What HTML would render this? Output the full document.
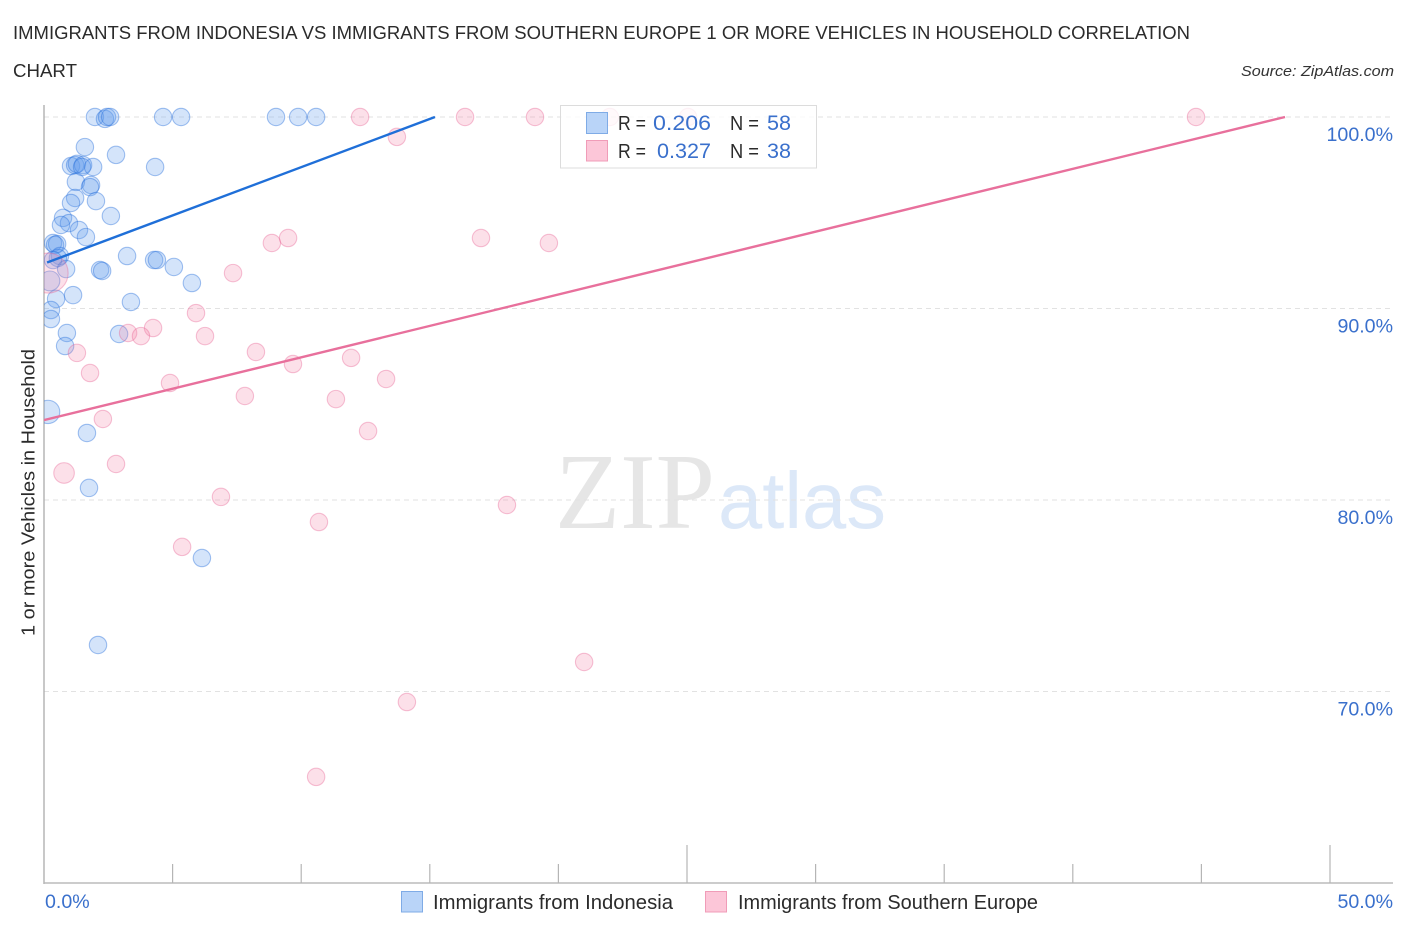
<!DOCTYPE html>
<html lang="en">
<head>
<meta charset="utf-8">
<title>Immigrants from Indonesia vs Immigrants from Southern Europe Correlation Chart</title>
<style>
html,body{margin:0;padding:0;background:#fff;}
svg{display:block;font-family:"Liberation Sans",sans-serif;}
</style>
</head>
<body>
<svg id="chart" xmlns="http://www.w3.org/2000/svg" width="1406" height="930" viewBox="0 0 1406 930">
  <defs>
    <clipPath id="plot-clip"><rect x="44" y="90" width="1349" height="793"/></clipPath>
  </defs>
  <rect x="0" y="0" width="1406" height="930" fill="#ffffff"/>
  <text x="13" y="39" font-size="18.6" fill="#2b2b2b" textLength="1177" lengthAdjust="spacingAndGlyphs">IMMIGRANTS FROM INDONESIA VS IMMIGRANTS FROM SOUTHERN EUROPE 1 OR MORE VEHICLES IN HOUSEHOLD CORRELATION</text>
  <text x="13" y="77" font-size="18.6" fill="#2b2b2b" textLength="64" lengthAdjust="spacingAndGlyphs">CHART</text>
  <text x="1241" y="76" font-size="15" font-style="italic" fill="#333333" textLength="153" lengthAdjust="spacingAndGlyphs">Source: ZipAtlas.com</text>

  <g id="watermark">
    <text x="555" y="528" font-family="'Liberation Serif',serif" font-size="108" fill="#e6e6e6" textLength="160" lengthAdjust="spacingAndGlyphs">ZIP</text>
    <text x="718" y="528" font-family="'Liberation Sans',sans-serif" font-size="80" fill="#dce8f8" textLength="168" lengthAdjust="spacingAndGlyphs">atlas</text>
  </g>

  <g id="grid"></g>
  <g id="axes"></g>
  <g clip-path="url(#plot-clip)">
    <g id="series-a"></g>
    <g id="series-b"></g>
    <g id="trends"></g>
  </g>
  <g id="labels"></g>

  <text transform="translate(34.500,636) rotate(-90)" font-size="18" fill="#2b2b2b" textLength="287" lengthAdjust="spacingAndGlyphs">1 or more Vehicles in Household</text>

  <g>
    <rect x="560.500" y="105.500" width="256" height="62.500" fill="#ffffff" fill-opacity="0.8" stroke="#dcdcdc" stroke-width="1"/>
    <rect x="586.500" y="112.500" width="21" height="21" fill="#b9d4f8" stroke="#7fabe6" stroke-width="1"/>
    <rect x="586.500" y="140.500" width="21" height="20.500" fill="#fcc6d8" stroke="#f09cb8" stroke-width="1"/>
    <text x="618" y="130" font-size="20" fill="#2b2b2b" textLength="28" lengthAdjust="spacingAndGlyphs">R =</text>
    <text x="653" y="130" font-size="21" fill="#3a70cc" textLength="58" lengthAdjust="spacingAndGlyphs">0.206</text>
    <text x="730" y="130" font-size="20" fill="#2b2b2b" textLength="29" lengthAdjust="spacingAndGlyphs">N =</text>
    <text x="767" y="130" font-size="21" fill="#3a70cc" textLength="24" lengthAdjust="spacingAndGlyphs">58</text>
    <text x="618" y="158" font-size="20" fill="#2b2b2b" textLength="28" lengthAdjust="spacingAndGlyphs">R =</text>
    <text x="657" y="158" font-size="21" fill="#3a70cc" textLength="54" lengthAdjust="spacingAndGlyphs">0.327</text>
    <text x="730" y="158" font-size="20" fill="#2b2b2b" textLength="29" lengthAdjust="spacingAndGlyphs">N =</text>
    <text x="767" y="158" font-size="21" fill="#3a70cc" textLength="24" lengthAdjust="spacingAndGlyphs">38</text>
  </g>

  <g>
    <rect x="401.500" y="891.500" width="21" height="20.500" fill="#b9d4f8" stroke="#7fabe6" stroke-width="1"/>
    <text x="433" y="909" font-size="20" fill="#2b2b2b" textLength="240" lengthAdjust="spacingAndGlyphs">Immigrants from Indonesia</text>
    <rect x="705.500" y="891.500" width="21" height="20.500" fill="#fcc6d8" stroke="#f09cb8" stroke-width="1"/>
    <text x="738" y="909" font-size="20" fill="#2b2b2b" textLength="300" lengthAdjust="spacingAndGlyphs">Immigrants from Southern Europe</text>
  </g>
</svg>
<script>
const indonesiaX = [1.98,2.37,2.45,2.57,4.63,5.33,9.02,9.88,10.58,1.59,2.80,4.32,1.05,1.21,1.28,1.52,1.48,1.91,1.24,1.83,1.79,1.21,1.05,2.02,2.60,0.74,0.97,0.66,1.36,1.63,0.35,0.51,0.43,0.62,0.54,0.35,3.23,4.28,4.39,5.05,0.86,2.18,2.26,5.75,0.23,1.13,0.47,3.38,0.27,0.27,0.89,0.82,2.92,0.16,1.67,1.75,6.14,2.10];
const indonesiaY = [100,99.9,100,100,100,100,100,100,100,98.43,98.02,97.39,97.44,97.49,97.55,97.49,97.39,97.39,96.61,96.45,96.34,95.77,95.51,95.61,94.83,94.73,94.46,94.36,94.10,93.73,93.42,93.37,93.32,92.74,92.64,92.53,92.74,92.53,92.53,92.17,92.06,92.01,91.96,91.33,91.44,90.70,90.50,90.34,89.92,89.45,88.72,88.04,88.67,84.6,83.50,80.63,76.97,72.43];
const indonesiaWeight = [1,1,1,1,1,1,1,1,1,1,1,1,1,1,1,1,1,1,1,1,1,1,1,1,1,1,1,1,1,1,1,1,1,1,1,1,1,1,1,1,1,1,1,1,1.3,1,1,1,1,1,1,1,1,1.8,1,1,1,1];
const europeX = [12.29,16.37,19.09,22.0,25.04,44.79,13.72,8.86,9.49,16.99,19.63,7.35,5.91,6.26,4.24,3.27,3.77,1.28,1.79,8.24,9.68,11.94,4.90,13.30,7.81,11.35,2.29,12.60,2.80,0.78,6.88,18.0,10.69,5.37,21.0,14.11,10.58,0.16];
const europeY = [100,100,100,100,100,100,98.96,93.42,93.68,93.68,93.42,91.85,89.76,88.56,88.98,88.72,88.56,87.68,86.63,87.73,87.10,87.42,86.11,86.32,85.43,85.27,84.23,83.60,81.88,81.41,80.16,79.74,78.85,77.55,71.54,69.45,65.54,91.85];
const europeWeight = [1,1,1,1,1,1,1,1,1,1,1,1,1,1,1,1,1,1,1,1,1,1,1,1,1,1,1,1,1,1.4,1,1,1,1,1,1,1,5.3];
const indonesiaTrendX = [0.12,15.2];
const indonesiaTrendY = [92.4,100];
const europeTrendX = [0,48.25];
const europeTrendY = [84.17,100];
const xTickValues = [0,5,10,15,20,25,30,35,40,45,50];
const xMajorTicks = [0,25,50];
const xTickLabels = ["0.0%","50.0%"];
const xLabelValues = [0,50];
const yGridValues = [100,90,80,70];
const yTickLabels = ["100.0%","90.0%","80.0%","70.0%"];

const NS = 'http://www.w3.org/2000/svg';
function sx(v){ return 44 + v * 25.72; }
function sy(v){ return 117 + (100 - v) * 19.15; }
function radius(w){ return 8.7 * Math.sqrt(w); }
function make(tag, attrs, parent){
  const el = document.createElementNS(NS, tag);
  for (const k in attrs) el.setAttribute(k, attrs[k]);
  parent.appendChild(el);
  return el;
}

const grid = document.getElementById('grid');
yGridValues.forEach(function(v){
  const line = make('line', {x1:44, x2:1393, y1:sy(v), y2:sy(v), stroke:'#e2e2e2', 'stroke-width':1, 'stroke-dasharray':'5 4'}, grid);
  
  
});

const axes = document.getElementById('axes');
const yAxis = make('line', {x1:44, x2:44, y1:105, y2:884, stroke:'#aaaaaa', 'stroke-width':1.3}, axes);


const xAxis = make('line', {x1:44, x2:1393, y1:883, y2:883, stroke:'#bbbbbb', 'stroke-width':1.6}, axes);


xTickValues.forEach(function(v){
  const top = xMajorTicks.indexOf(v) >= 0 ? 845 : 864;
  const tick = make('line', {x1:sx(v), x2:sx(v), y1:top, y2:883, stroke:'#b5b5b5', 'stroke-width':1.2}, axes);
  
  
});

function drawPoints(groupId, xs, ys, ws, fill, stroke, name){
  const g = document.getElementById(groupId);
  xs.forEach(function(x, i){
    const c = make('circle', {cx:sx(x), cy:sy(ys[i]), r:radius(ws[i]), fill:fill, stroke:stroke, 'stroke-width':1.1}, g);
    
    
  });
}
drawPoints('series-b', europeX, europeY, europeWeight, 'rgba(242,130,168,0.25)', 'rgba(232,96,146,0.38)', 'southern-europe-point');
drawPoints('series-a', indonesiaX, indonesiaY, indonesiaWeight, 'rgba(96,156,236,0.27)', 'rgba(40,112,220,0.42)', 'indonesia-point');

const trends = document.getElementById('trends');
const trendA = make('line', {x1:sx(indonesiaTrendX[0]), y1:sy(indonesiaTrendY[0]), x2:sx(indonesiaTrendX[1]), y2:sy(indonesiaTrendY[1]), stroke:'#1f6fd8', 'stroke-width':2.4}, trends);


const trendB = make('line', {x1:sx(europeTrendX[0]), y1:sy(europeTrendY[0]), x2:sx(europeTrendX[1]), y2:sy(europeTrendY[1]), stroke:'#e8709c', 'stroke-width':2.4}, trends);



const labels = document.getElementById('labels');
yGridValues.forEach(function(v, i){
  const t = make('text', {x:1393, y:sy(v) + 24, 'text-anchor':'end', 'font-size':19.6, fill:'#3a70cc'}, labels);
  t.textContent = yTickLabels[i];
  
  
});
xLabelValues.forEach(function(v, i){
  const t = make('text', {x: i === 0 ? sx(v) + 1 : 1393, y:908, 'text-anchor': i === 0 ? 'start' : 'end', 'font-size':19.6, fill:'#3a70cc'}, labels);
  t.textContent = xTickLabels[i];
  
  
});
</script>
</body>
</html>
